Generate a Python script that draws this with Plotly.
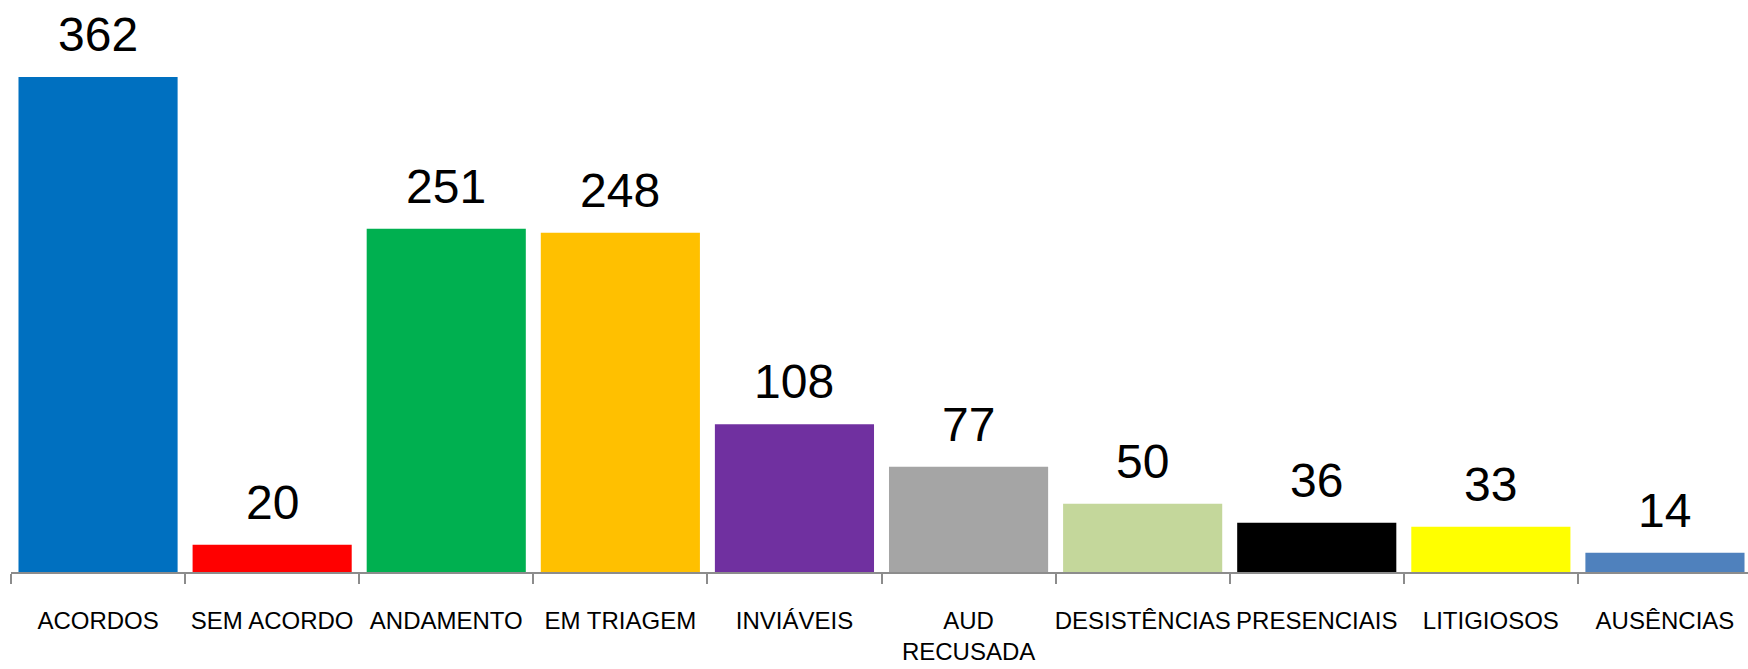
import plotly.graph_objects as go

categories = ["ACORDOS", "SEM ACORDO", "ANDAMENTO", "EM TRIAGEM", "INVIÁVEIS",
              "AUD<br>RECUSADA", "DESISTÊNCIAS", "PRESENCIAIS", "LITIGIOSOS", "AUSÊNCIAS"]
values = [362, 20, 251, 248, 108, 77, 50, 36, 33, 14]
colors = ["#0070C0", "#FF0000", "#00B050", "#FFC000", "#7030A0",
          "#A5A5A5", "#C4D79B", "#000000", "#FFFF00", "#4F81BD"]

FONT = "Liberation Sans Narrow, Arial Narrow, Liberation Sans, Arial, sans-serif"

fig = go.Figure()
fig.add_trace(go.Bar(x=categories, y=values, marker=dict(color=colors, line=dict(width=0)),
                     hoverinfo="x+y"))

for c, v in zip(categories, values):
    fig.add_annotation(x=c, y=v, text=str(v), showarrow=False, yanchor="bottom",
                       yshift=14, font=dict(family=FONT, size=48, color="#000000"))

fig.update_layout(
    width=1748, height=669,
    margin=dict(l=11, r=0, t=0, b=97),
    plot_bgcolor="white", paper_bgcolor="white",
    bargap=0.086, showlegend=False,
)
fig.update_xaxes(
    type="category", range=[-0.5, 9.477], automargin=False,
    showline=True, linecolor="#8c8c8c", linewidth=2,
    ticks="outside", ticklen=10, tickcolor="#8c8c8c", tickwidth=2,
    tickson="boundaries", showgrid=False, tickangle=0,
    tickfont=dict(family=FONT, size=24, color="#000000"),
    ticklabelstandoff=26,
)
fig.update_yaxes(range=[0, 418.3], visible=False, showgrid=False, automargin=False)

fig.write_html("out.html", config={"displayModeBar": False},
               post_script="document.body.style.margin='0';document.body.style.overflow='hidden';")
